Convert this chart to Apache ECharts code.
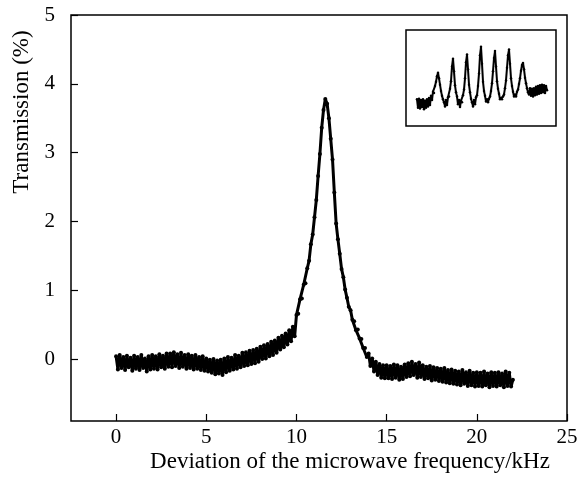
<!DOCTYPE html>
<html>
<head>
<meta charset="utf-8">
<script src="https://cdn.jsdelivr.net/npm/echarts@6/dist/echarts.min.js"></script>
<style>
  html, body { margin: 0; padding: 0; background: #fff; }
  #chart { width: 587px; height: 484px; }
</style>
</head>
<body>
<div id="chart"></div>
<script>
// main trace: transmission (%) sampled every 0.1 kHz from 0 kHz
var freqStart = 0;
var freqStep = 0.1;
var transmission = [
  0.04,-0.15,0.06,-0.13,0.03,-0.16,0.05,-0.12,0.02,-0.17,
  0.05,-0.14,0.03,-0.16,0.06,-0.13,0.01,-0.18,0.04,-0.15,
  0.06,-0.14,0.04,-0.15,0.07,-0.12,0.05,-0.14,0.08,-0.11,
  0.08,-0.12,0.10,-0.10,0.07,-0.13,0.09,-0.11,0.06,-0.14,
  0.07,-0.13,0.05,-0.15,0.06,-0.14,0.03,-0.16,0.04,-0.17,
  0.01,-0.18,-0.01,-0.20,0.00,-0.22,-0.02,-0.21,-0.01,-0.23,
  0.01,-0.19,0.03,-0.17,0.02,-0.15,0.06,-0.14,0.05,-0.12,
  0.09,-0.10,0.10,-0.09,0.12,-0.07,0.13,-0.06,0.15,-0.04,
  0.18,0.00,0.20,0.01,0.22,0.04,0.25,0.06,0.27,0.09,
  0.31,0.14,0.34,0.17,0.37,0.21,0.42,0.26,0.47,0.33,
  0.64,0.66,0.87,0.88,1.08,1.10,1.32,1.43,1.67,1.81,
  2.06,2.31,2.66,2.98,3.36,3.62,3.78,3.71,3.50,3.20,
  2.90,2.42,1.97,1.74,1.53,1.31,1.19,1.01,0.89,0.76,
  0.71,0.57,0.55,0.42,0.43,0.30,0.29,0.16,0.16,0.03,
  0.08,-0.10,0.01,-0.18,-0.04,-0.23,-0.07,-0.27,-0.09,-0.28,
  -0.09,-0.28,-0.10,-0.29,-0.08,-0.27,-0.09,-0.30,-0.11,-0.29,
  -0.08,-0.26,-0.06,-0.25,-0.04,-0.23,-0.07,-0.27,-0.05,-0.26,
  -0.09,-0.29,-0.11,-0.28,-0.10,-0.31,-0.12,-0.30,-0.13,-0.32,
  -0.14,-0.33,-0.13,-0.34,-0.16,-0.35,-0.15,-0.36,-0.17,-0.37,
  -0.18,-0.38,-0.16,-0.36,-0.19,-0.39,-0.17,-0.38,-0.20,-0.40,
  -0.19,-0.39,-0.20,-0.40,-0.18,-0.38,-0.21,-0.41,-0.19,-0.39,
  -0.20,-0.40,-0.19,-0.38,-0.21,-0.41,-0.18,-0.39,-0.20,-0.40,
  -0.30
];
var xTicks = [0, 5, 10, 15, 20, 25];
var yTicks = [0, 1, 2, 3, 4, 5];

// inset: comb of resonances, arbitrary units, one sample per step
var insetSignal = [
  0.15,0.03,0.16,0.02,0.14,0.04,0.15,0.01,0.13,0.03,
  0.15,0.05,0.17,0.07,0.20,0.14,0.26,0.24,0.34,0.40,
  0.48,0.53,0.45,0.36,0.27,0.20,0.15,0.11,0.05,0.14,
  0.07,0.18,0.19,0.30,0.41,0.62,0.73,0.55,0.35,0.25,
  0.19,0.08,0.14,0.04,0.13,0.11,0.21,0.29,0.45,0.68,
  0.79,0.58,0.36,0.25,0.16,0.11,0.05,0.14,0.08,0.18,
  0.21,0.34,0.52,0.78,0.90,0.66,0.40,0.27,0.20,0.12,
  0.15,0.11,0.16,0.19,0.27,0.38,0.55,0.74,0.84,0.62,
  0.41,0.30,0.23,0.15,0.17,0.15,0.19,0.22,0.31,0.42,
  0.60,0.78,0.86,0.66,0.45,0.34,0.26,0.19,0.22,0.19,
  0.26,0.29,0.37,0.45,0.56,0.64,0.67,0.58,0.46,0.38,
  0.31,0.25,0.22,0.31,0.20,0.30,0.19,0.31,0.21,0.33,
  0.22,0.34,0.23,0.35,0.24,0.36,0.25,0.35,0.24,0.34,
  0.28
];

var mainData = transmission.map(function (v, i) {
  return [freqStart + i * freqStep, v];
});
var insetData = insetSignal.map(function (v, i) { return [i, v]; });

var font = 'Liberation Serif';
var chart = echarts.init(document.getElementById('chart'));
var option = {
  backgroundColor: '#fff',
  animation: false,
  grid: [
    { left: 71, right: 20, top: 15, bottom: 63, show: true,
      borderColor: '#000', borderWidth: 1.5, backgroundColor: 'transparent' },
    { left: 406, top: 30, width: 150, height: 96, show: true,
      borderColor: '#000', borderWidth: 1.5, backgroundColor: '#fff' }
  ],
  xAxis: [
    {
      type: 'value', gridIndex: 0, min: -2.5, max: 25,
      axisLine: { show: false, onZero: false },
      splitLine: { show: false },
      axisTick: { show: true, inside: true, length: 7, customValues: xTicks,
        lineStyle: { color: '#000', width: 1.2 } },
      axisLabel: { customValues: xTicks, color: '#000', fontFamily: font,
        fontSize: 21, margin: 6, showMinLabel: true, showMaxLabel: true }
    },
    {
      type: 'value', gridIndex: 1, min: -11, max: 139, show: false
    }
  ],
  yAxis: [
    {
      type: 'value', gridIndex: 0, min: -0.9, max: 5,
      axisLine: { show: false, onZero: false },
      splitLine: { show: false },
      axisTick: { show: true, inside: true, length: 7, customValues: yTicks,
        lineStyle: { color: '#000', width: 1.2 } },
      axisLabel: { customValues: yTicks, color: '#000', fontFamily: font,
        fontSize: 21, margin: 16 }
    },
    {
      type: 'value', gridIndex: 1, min: -0.23, max: 1.14, show: false
    }
  ],
  graphic: [
    {
      type: 'text', x: 22, y: 112, rotation: Math.PI / 2,
      style: { text: 'Transmission (%)', font: '23px "Liberation Serif"',
        fill: '#000', align: 'center', verticalAlign: 'middle' }
    },
    {
      type: 'text', x: 350, y: 462,
      style: { text: 'Deviation of the microwave frequency/kHz',
        font: '23px "Liberation Serif"', fill: '#000',
        align: 'center', verticalAlign: 'middle' }
    }
  ],
  series: [
    {
      type: 'line', xAxisIndex: 0, yAxisIndex: 0, data: mainData,
      symbol: 'circle', symbolSize: 4, showSymbol: true,
      itemStyle: { color: '#000' },
      lineStyle: { color: '#000', width: 3 }
    },
    {
      type: 'line', xAxisIndex: 1, yAxisIndex: 1, data: insetData,
      symbol: 'circle', symbolSize: 2.5, showSymbol: true,
      itemStyle: { color: '#000' },
      lineStyle: { color: '#000', width: 2 }
    }
  ]
};
chart.setOption(option);
</script>
</body>
</html>
